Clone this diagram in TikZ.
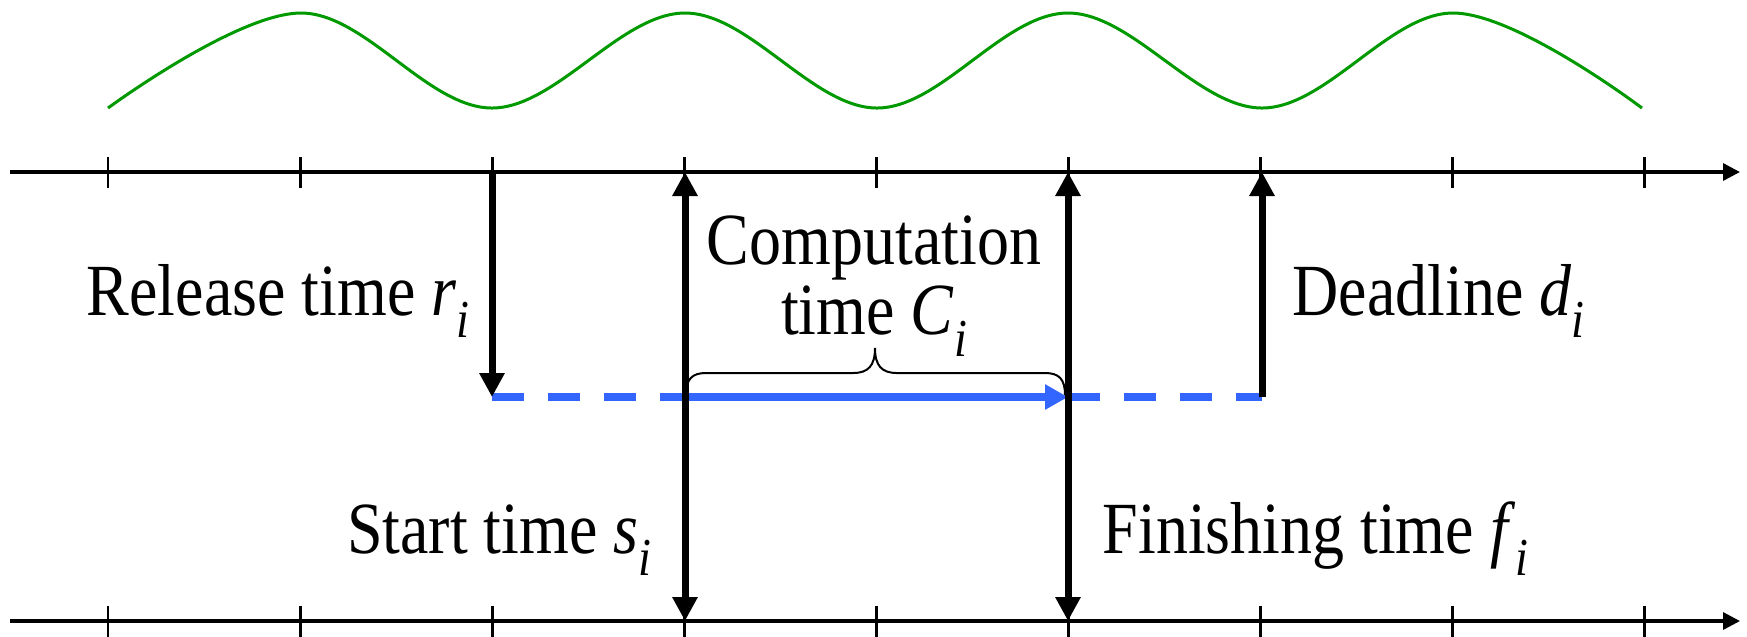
\documentclass[tikz,border=0pt]{standalone}
\usepackage{graphicx}
\usepackage{fontspec}
\setmainfont{Liberation Serif}
\usetikzlibrary{arrows.meta, positioning}
\definecolor{tlWave}{HTML}{009900}
\definecolor{tlJob}{HTML}{3366FF}
\newcommand{\tsub}[1]{\raisebox{-0.3em}{\fontsize{13.2}{13.2}\selectfont\itshape #1}}
\newcommand{\tallbox}[1]{\scalebox{1}[1.15]{#1}}
\tikzset{
  axisline/.style={-{Triangle[length=1.7mm, width=1.7mm]}, line width=0.33mm, black},
  tickmark/.style={line width=0.28mm, black},
  timearrow/.style={-{Triangle[length=2.4mm, width=2.4mm]}, line width=0.7mm},
  spanarrow/.style={{Triangle[length=2.4mm, width=2.4mm]}-{Triangle[length=2.4mm, width=2.4mm]}, line width=0.7mm},
  jobrun/.style={-{Triangle[length=2.3mm, width=2.4mm]}, line width=0.75mm, tlJob},
  jobwait/.style={line width=0.75mm, tlJob, dash pattern=on 3.2mm off 2.4mm},
  wave/.style={line width=0.3mm, tlWave},
  bracket/.style={line width=0.2mm},
  tag/.style={font=\fontsize{18.2}{17.2}\selectfont, inner sep=0pt}
}
\begin{document}
\begin{tikzpicture}[x=0.1mm, y=-0.1mm]
  \path[fill=white, use as bounding box] (0,0) rectangle (1747,636);
  % time axes
  \coordinate (top0) at (10,172);
  \coordinate (top1) at (1740,172);
  \coordinate (bot0) at (10,621);
  \coordinate (bot1) at (1740,621);
  \coordinate (lane) at (0,397);
  \coordinate (rel) at (492,172);
  \coordinate (sta) at (685,172);
  \coordinate (fin) at (1068,172);
  \coordinate (ddl) at (1262,172);
  \draw[axisline] (top0) -- (top1);
  \draw[axisline] (bot0) -- (bot1);
  \foreach \i in {0,...,8} {
    \draw[tickmark] ({108+192.1*\i},157) -- ++(0,31);
    \draw[tickmark] ({108+192.1*\i},606) -- ++(0,31);
  }
  % periodic signal
  \draw[wave] plot[smooth, tension=0.6] coordinates {(108,108) (301,13) (492,108) (685,13) (877,108) (1068,13) (1262,108) (1453,13) (1642,108)};
  % job lane
  \draw[jobwait] (rel |- lane) -- (sta |- lane);
  \draw[jobwait] (fin |- lane) -- (ddl |- lane);
  \draw[jobrun] (sta |- lane) -- (fin |- lane);
  \draw[bracket] (686,395) .. controls (686,379) and (692,373) .. (706,373) -- (853,373)
    .. controls (868,373) and (875,366) .. (875,348) .. controls (875,366) and (882,373) .. (897,373)
    -- (1045,373) .. controls (1059,373) and (1065,379) .. (1065,395);
  % instants
  \draw[timearrow] (rel) -- (rel |- lane);
  \draw[spanarrow] (sta |- bot0) -- (sta);
  \draw[spanarrow] (fin |- bot0) -- (fin);
  \draw[timearrow] (ddl |- lane) -- (ddl);
  % labels
  \node[tag, anchor=base east] (rlab) at (470,315) {\tallbox{Release time \textit{r}\tsub{i}}};
  \node[tag, anchor=base west] (dlab) at (1292,315) {\tallbox{Deadline \textit{d}\tsub{i}}};
  \node[tag, anchor=base east] (slab) at (652,553) {\tallbox{Start time \textit{s}\tsub{i}}};
  \node[tag, anchor=base west] (flab) at (1102,553) {\tallbox{Finishing time \textit{f}\tsub{i}}};
  \node[tag, anchor=base] (clab) at (874,334) {\tallbox{\begin{tabular}[b]{@{}c@{}}Computation\\time \textit{C}\tsub{i}\end{tabular}}};
\end{tikzpicture}
\end{document}
